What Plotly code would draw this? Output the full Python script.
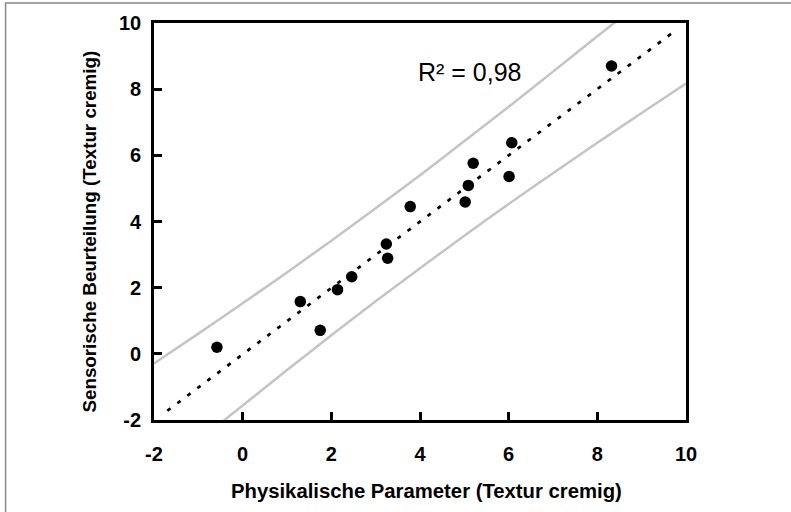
import plotly.graph_objects as go

# Data
phys = [-0.58, 1.30, 1.75, 2.14, 2.46, 3.24, 3.27, 3.78, 5.02, 5.09, 5.20, 6.01, 6.07, 8.32]
sens = [0.20, 1.58, 0.71, 1.94, 2.33, 3.32, 2.89, 4.45, 4.59, 5.09, 5.76, 5.36, 6.38, 8.70]

# regression (trend) line endpoints
trend_x = [-1.70, 9.80]
trend_y = [-1.72, 9.81]

# prediction band (upper / lower)
upper_x = [-2.0, -1.0, 0.0, 1.0, 2.0, 3.0, 4.0, 5.0, 6.0, 7.0, 8.0, 8.55]
upper_y = [-0.29, 0.61, 1.53, 2.46, 3.42, 4.40, 5.40, 6.43, 7.47, 8.53, 9.60, 10.18]

lower_x = [-0.55, 0.0, 1.0, 2.0, 3.0, 4.0, 5.0, 6.0, 7.0, 8.0, 9.0, 10.0]
lower_y = [-2.15, -1.56, -0.49, 0.56, 1.59, 2.59, 3.57, 4.53, 5.46, 6.38, 7.28, 8.17]

x_ticks = [-2, 0, 2, 4, 6, 8, 10]
y_ticks = [-2, 0, 2, 4, 6, 8, 10]

x_title = "Physikalische Parameter (Textur cremig)"
y_title = "Sensorische Beurteilung (Textur cremig)"
r2_label = "R² = 0,98"

FONT = "Liberation Sans, Arial, sans-serif"

fig = go.Figure()
band_line = dict(color="#c4c4c4", width=2.5, shape="spline", smoothing=0.6)
fig.add_trace(go.Scatter(x=upper_x, y=upper_y, mode="lines", line=band_line, cliponaxis=False, hoverinfo="skip"))
fig.add_trace(go.Scatter(x=lower_x, y=lower_y, mode="lines", line=band_line, cliponaxis=False, hoverinfo="skip"))
fig.add_trace(go.Scatter(x=trend_x, y=trend_y, mode="lines", line=dict(color="black", width=2.7, dash="4px,8.5px")))
fig.add_trace(go.Scatter(x=phys, y=sens, mode="markers", marker=dict(color="black", size=11.5)))

axis_common = dict(
    showline=True, linecolor="black", linewidth=2.7, mirror=True,
    ticks="inside", ticklen=8, tickwidth=2.5, tickcolor="black",
    showgrid=False, zeroline=False,
    tickfont=dict(family=FONT, size=20, color="black", weight="bold"),
)

fig.update_layout(
    width=791, height=512,
    margin=dict(l=153.5, r=105, t=23, b=92),
    paper_bgcolor="white", plot_bgcolor="white",
    showlegend=False,
    font=dict(family=FONT, color="black"),
    xaxis=dict(range=[-2, 10], tickvals=x_ticks, ticktext=[str(v) for v in x_ticks],
               ticklabelstandoff=14, **axis_common),
    yaxis=dict(range=[-2, 10], tickvals=y_ticks, ticktext=[str(v) for v in y_ticks],
               ticklabelstandoff=6, **axis_common),
    annotations=[
        dict(x=5.13, y=8.52, xref="x", yref="y", text=r2_label, showarrow=False,
             font=dict(family=FONT, size=25, color="black")),
        dict(x=(426 - 153.5) / 532.5, y=(420 - 491) / 397, xref="paper", yref="paper", text=x_title,
             showarrow=False, xanchor="center", yanchor="middle",
             font=dict(family=FONT, size=20.3, color="black", weight="bold")),
        dict(x=(88 - 153.5) / 532.5, y=(420 - 232) / 397, xref="paper", yref="paper", text=y_title,
             showarrow=False, xanchor="center", yanchor="middle", textangle=-90,
             font=dict(family=FONT, size=18.8, color="black", weight="bold")),
    ],
    shapes=[dict(type="rect", xref="paper", yref="paper", x0=-0.279, x1=1.4, y0=-0.5, y1=1.0504,
                 line=dict(color="#888888", width=1.5), layer="below")],
)

fig.write_html("out.html")
